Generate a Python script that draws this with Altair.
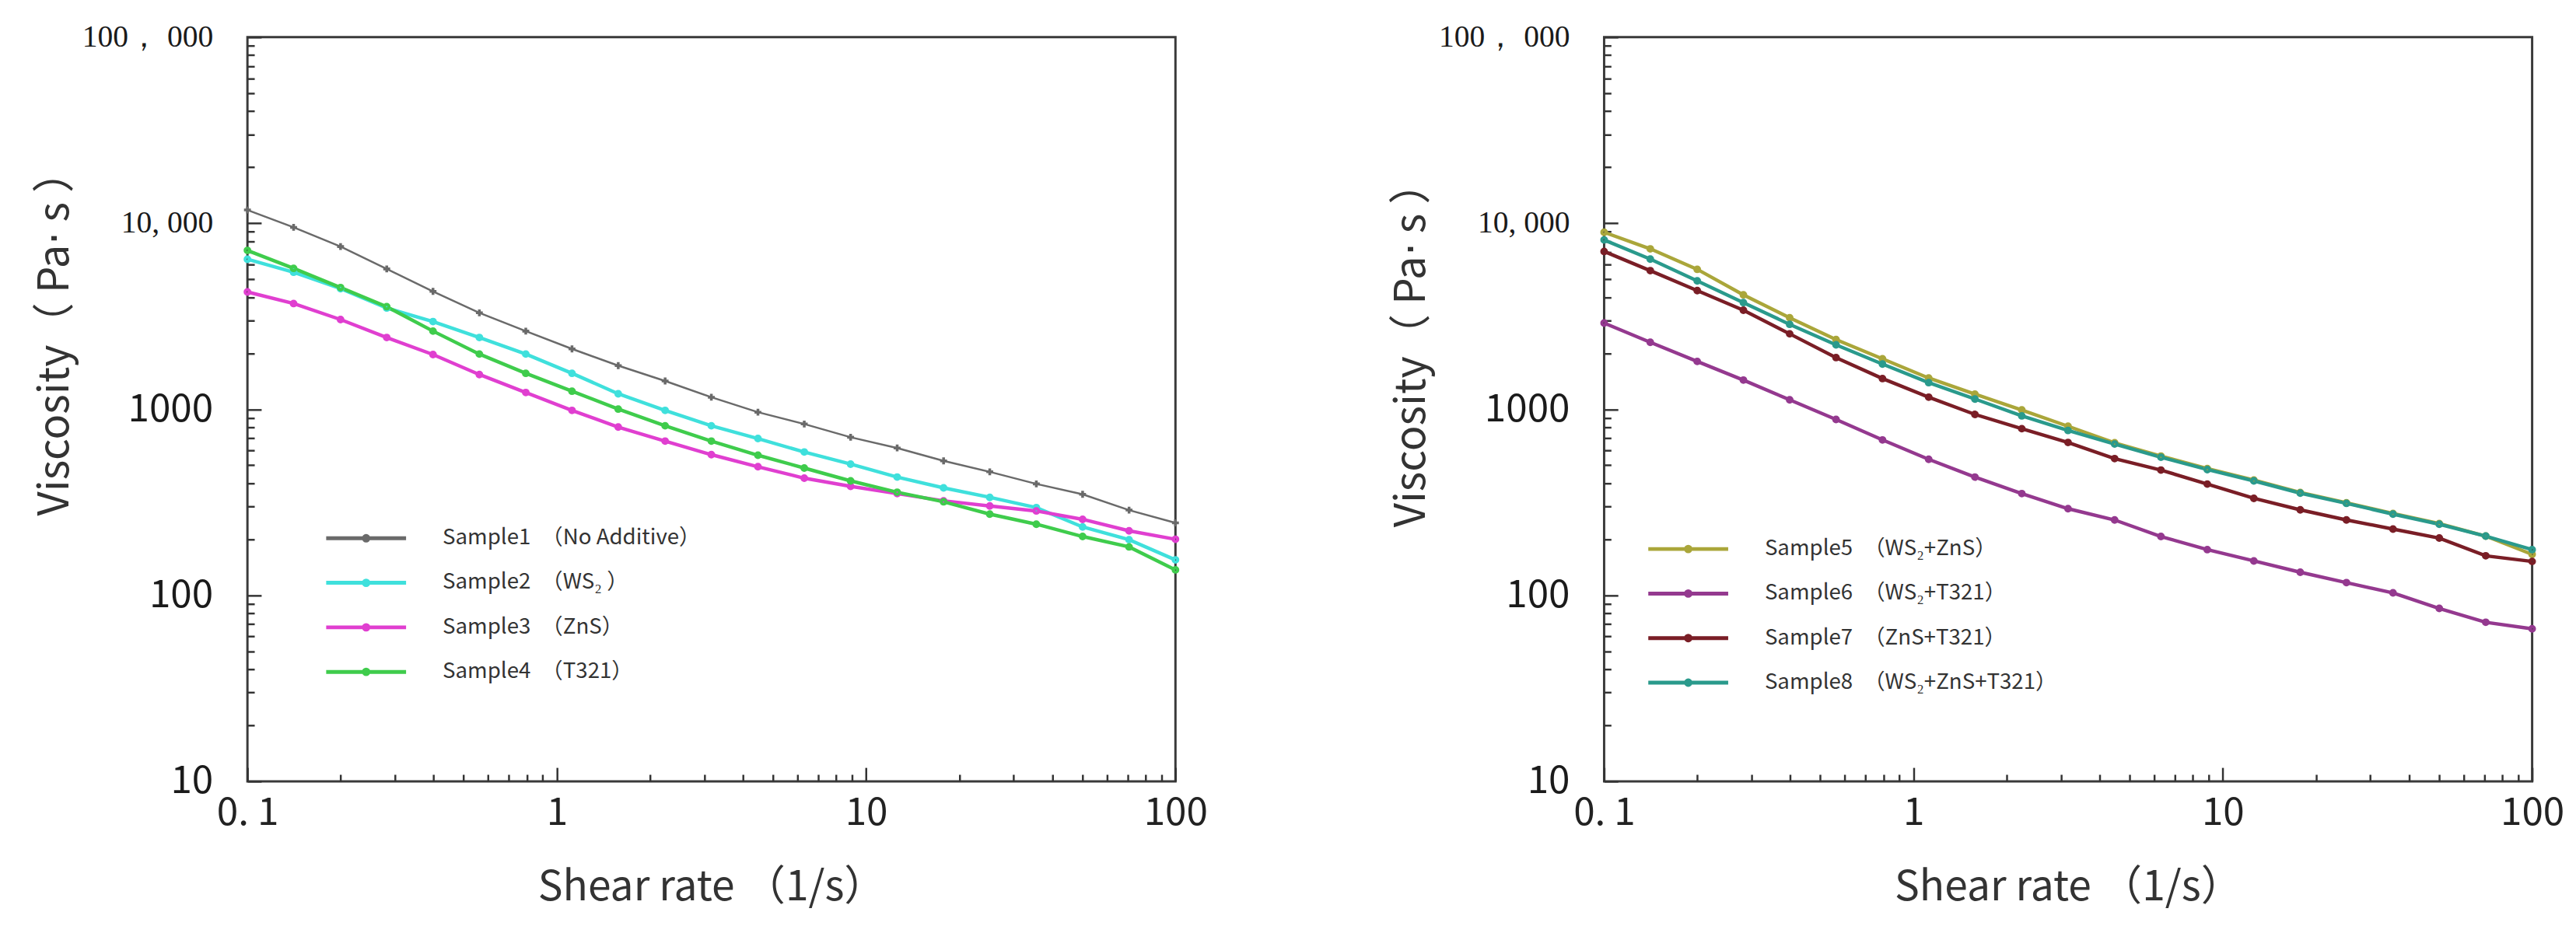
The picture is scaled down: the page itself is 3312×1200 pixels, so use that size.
import altair as alt
import pandas as pd

shear_rate = [0.1, 0.141, 0.2, 0.282, 0.398, 0.562, 0.794, 1.12, 1.58, 2.24, 3.16,
              4.47, 6.31, 8.91, 12.6, 17.8, 25.1, 35.5, 50.1, 70.8, 100]

# left panel, viscosity (Pa s)
sample1 = [11780, 9500, 7490, 5680, 4300, 3300, 2630, 2110, 1716, 1419, 1160,
           964, 833, 707, 619, 528, 461, 397, 349, 287, 245]
sample2 = [6400, 5450, 4450, 3500, 2960, 2430, 1980, 1560, 1211, 986, 815,
           696, 589, 507, 432, 378, 336, 296, 233, 199, 155]
sample3 = [4270, 3700, 3035, 2430, 1968, 1537, 1230, 986, 802, 674, 570,
           491, 426, 385, 352, 322, 302, 284, 256, 222, 200]
sample4 = [7140, 5720, 4510, 3560, 2630, 1980, 1560, 1250, 1002, 815, 674,
           566, 483, 412, 358, 318, 273, 241, 207, 182, 137]

# right panel
sample5 = [8940, 7280, 5650, 4120, 3100, 2370, 1866, 1472, 1206, 991, 810,
           660, 560, 480, 416, 357, 314, 275, 243, 208, 166]
sample6 = [2905, 2291, 1807, 1435, 1124, 881, 684, 538, 432, 352, 292,
           254, 207, 176, 153, 133, 117, 103, 85, 71.6, 66]
sample7 = [7050, 5560, 4345, 3405, 2543, 1895, 1462, 1161, 938, 786, 663,
           543, 471, 396, 332, 288, 254, 227, 203, 163, 152]
sample8 = [8130, 6410, 4900, 3742, 2860, 2220, 1750, 1390, 1135, 921, 769,
           650, 552, 474, 412, 354, 312, 273, 241, 208, 176]

left_names = ["Sample1\u3000（No Additive）", "Sample2\u3000（WS₂ ）",
              "Sample3\u3000（ZnS）", "Sample4\u3000（T321）"]
right_names = ["Sample5\u3000（WS₂+ZnS）", "Sample6\u3000（WS₂+T321）",
               "Sample7\u3000（ZnS+T321）", "Sample8\u3000（WS₂+ZnS+T321）"]
left_colors = ["#6a6a6a", "#3fe0dc", "#e03fd0", "#3fcc4c"]
right_colors = ["#aaa63a", "#94398f", "#7a1e26", "#2a9a8c"]

x_labels = [0.1, 1, 10, 100]
y_labels = [10, 100, 1000, 10000, 100000]

FONT = "Noto Sans CJK SC"
SERIF = "Liberation Serif"
W, H = 1208, 969

x_ticks = [m * 10 ** e for e in (-1, 0, 1) for m in range(1, 10)] + [100]
y_ticks = [m * 10 ** e for e in (1, 2, 3, 4) for m in range(1, 10)] + [100000]
MAJOR = "abs(log(datum.value) / LN10 - round(log(datum.value) / LN10)) < 0.01"

# legend glyph: a thin bar with a dot in the middle
LEGEND_GLYPH = ("M-4,-0.04L4,-0.04L4,0.04L-4,0.04Z"
                "M0.28,0A0.28,0.28,0,1,1,-0.28,0A0.28,0.28,0,1,1,0.28,0Z")


def long_table(names, series):
    rows = []
    for name, values in zip(names, series):
        for r, v in zip(shear_rate, values):
            rows.append({"sample": name, "rate": r, "visc": v})
    return pd.DataFrame(rows)


def tick_axis(orient, offset, values):
    # inward ticks only, drawn by a second axis moved onto the frame
    return alt.Axis(orient=orient, offset=offset, values=values, labels=False,
                    domain=False, grid=False, title=None, tickColor="#333333",
                    tickWidth=2.5,
                    tickSize={"condition": {"test": MAJOR, "value": 18}, "value": 9})


def panel(df, names, colors, thin, legend_x, legend_y, title_y):
    x_scale = alt.Scale(type="log", domain=[0.1, 100])
    y_scale = alt.Scale(type="log", domain=[10, 100000])
    thick = [n for n in names if n not in thin]

    x_axis = alt.Axis(values=x_labels, ticks=False, tickSize=0, domain=False, grid=False,
                      labelFlush=False,
                      labelExpr="datum.value < 1 ? '0. 1' : format(datum.value, 'd')",
                      labelFont=FONT, labelFontSize=50, labelColor="#222222",
                      labelPadding=16, title="Shear rate （1/s）", titleFont=FONT,
                      titleFontSize=54, titleFontWeight="normal", titleColor="#333333",
                      titlePadding=46)
    y_axis = alt.Axis(values=y_labels, ticks=False, tickSize=0, domain=False, grid=False,
                      labelFlush=False,
                      labelExpr="datum.value == 100000 ? '100， 000' : datum.value == 10000"
                                " ? '10, 000' : format(datum.value, 'd')",
                      labelFont={"condition": {"test": "datum.value >= 10000", "value": SERIF},
                                 "value": FONT},
                      labelFontSize={"condition": {"test": "datum.value >= 10000", "value": 40},
                                     "value": 50},
                      labelColor="#1a1a1a", labelPadding=45, labelBaseline="middle",
                      title="Viscosity（  Pa⋅ s ）", titleFont=FONT, titleFontSize=55,
                      titleFontWeight="normal", titleColor="#333333",
                      titleX=-251, titleY=title_y, titleBaseline="middle")

    legend = alt.Legend(orient="none", legendX=legend_x, legendY=legend_y, title=None,
                        symbolType=LEGEND_GLYPH, symbolSize=625, symbolStrokeWidth=4,
                        labelFont=FONT, labelFontSize=28, labelColor="#333333",
                        labelOffset=85, rowPadding=29, labelLimit=600)
    color_scale = alt.Scale(domain=names, range=colors)

    base = alt.Chart(df).encode(
        x=alt.X("rate:Q", scale=x_scale, axis=None),
        y=alt.Y("visc:Q", scale=y_scale, axis=None),
    )
    thick_lines = base.mark_line(strokeWidth=4.5).encode(
        x=alt.X("rate:Q", scale=x_scale, axis=x_axis),
        y=alt.Y("visc:Q", scale=y_scale, axis=y_axis),
        color=alt.Color("sample:N", scale=color_scale, sort=names, legend=legend),
    ).transform_filter(alt.FieldOneOfPredicate(field="sample", oneOf=thick))
    dots = base.mark_point(filled=False, shape="circle", size=36, strokeWidth=4, opacity=1).encode(
        x=alt.X("rate:Q", scale=x_scale, axis=tick_axis("top", -H, x_ticks)),
        y=alt.Y("visc:Q", scale=y_scale, axis=tick_axis("right", -W, y_ticks)),
        color=alt.Color("sample:N", legend=None),
    ).transform_filter(alt.FieldOneOfPredicate(field="sample", oneOf=thick))
    layers = [thick_lines, dots]
    if thin:
        thin_lines = base.mark_line(strokeWidth=2.5).encode(
            color=alt.Color("sample:N", legend=None),
        ).transform_filter(alt.FieldOneOfPredicate(field="sample", oneOf=thin))
        crosses = base.mark_point(filled=True, shape="cross", size=80, opacity=1).encode(
            color=alt.Color("sample:N", legend=None),
        ).transform_filter(alt.FieldOneOfPredicate(field="sample", oneOf=thin))
        layers = [thick_lines, thin_lines, dots, crosses]
    return alt.layer(*layers).resolve_axis(x="independent", y="independent").properties(
        width=W, height=H)


left = panel(long_table(left_names, [sample1, sample2, sample3, sample4]),
             left_names, left_colors, left_names[:1], 140, 638, 385)
right = panel(long_table(right_names, [sample5, sample6, sample7, sample8]),
              right_names, right_colors, [], 95, 652, 400)

chart = alt.hconcat(left, right, spacing=234).resolve_scale(
    color="independent"
).properties(
    padding={"left": 34, "top": 11, "right": 5, "bottom": 5}, background="white"
).configure_view(stroke="#3a3a3a", strokeWidth=3)

chart.save("out.html", embed_options={"renderer": "svg", "actions": False})
